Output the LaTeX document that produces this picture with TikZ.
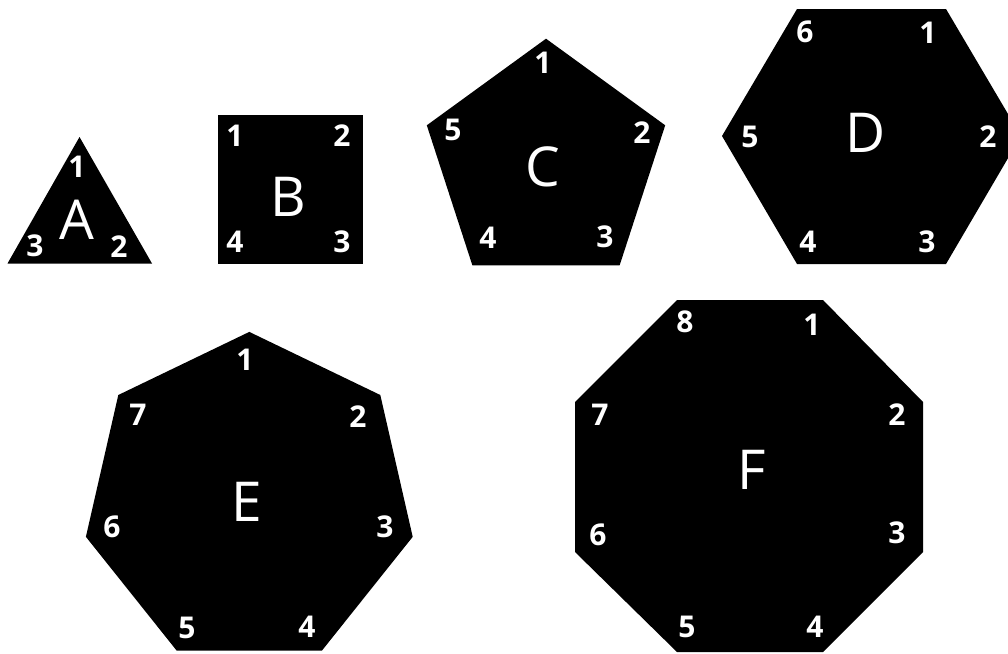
\documentclass[tikz,border=0pt]{standalone}
\usepackage{fontspec}
\setmainfont{Open Sans}
\begin{document}
\begin{tikzpicture}[x=1pt,y=-1pt,
  polyfill/.style={fill=black},
  num/.style={text=white,inner sep=0pt,font=\fontsize{30}{30}\selectfont\bfseries},
  big/.style={text=white,inner sep=0pt,font=\fontsize{55}{55}\selectfont}]
\useasboundingbox (0,0) rectangle (1008,653);
\clip (0,0) rectangle (1008,653);
% A triangle
\fill[polyfill] (79.5,137) -- (152,263.5) -- (7.5,263.5) -- cycle;
\node[num] (a1) at (77,167) {1};
\node[num] (a2) at (119,247) {2};
\node[num] (a3) at (35,246) {3};
\node[big] (A) at (77,220) {A};
% B square
\fill[polyfill] (218,115) rectangle (363,264);
\node[num] (b1) at (235,136) {1};
\node[num] (b2) at (342,136) {2};
\node[num] (b3) at (342,242) {3};
\node[num] (b4) at (235,242) {4};
\node[big] (B) at (288,197) {B};
% C pentagon
\fill[polyfill] (546,38.7) -- (665.2,125.3) -- (619.6,265.4) -- (472.4,265.4) -- (426.8,125.3) -- cycle;
\node[num] (c1) at (543,63) {1};
\node[num] (c2) at (642,133) {2};
\node[num] (c3) at (605,237) {3};
\node[num] (c4) at (488,238) {4};
\node[num] (c5) at (453,130) {5};
\node[big] (C) at (543,167) {C};
% D hexagon
\fill[polyfill] (797,9) -- (946,9) -- (1021,136) -- (946,264) -- (797,264) -- (722,136) -- cycle;
\node[num] (d1) at (928,33) {1};
\node[num] (d2) at (988,137) {2};
\node[num] (d3) at (927,242) {3};
\node[num] (d4) at (808,242) {4};
\node[num] (d5) at (750,137) {5};
\node[num] (d6) at (805,32) {6};
\node[big] (D) at (866,133) {D};
% E heptagon
\fill[polyfill] (249.3,331.9) -- (380.3,395.0) -- (412.7,536.8) -- (322.0,650.5) -- (176.6,650.5) -- (85.9,536.8) -- (118.3,395.0) -- cycle;
\node[num] (e1) at (245,360) {1};
\node[num] (e2) at (358,417) {2};
\node[num] (e3) at (385,527) {3};
\node[num] (e4) at (307,627) {4};
\node[num] (e5) at (187,628) {5};
\node[num] (e6) at (112,527) {6};
\node[num] (e7) at (138,415) {7};
\node[big] (E) at (247,502) {E};
% F octagon
\fill[polyfill] (677,300) -- (823,300) -- (923,402) -- (923,552) -- (823,652) -- (677,652) -- (575,552) -- (575,402) -- cycle;
\node[num] (f1) at (812,325) {1};
\node[num] (f2) at (897,415) {2};
\node[num] (f3) at (897,533) {3};
\node[num] (f4) at (815,627) {4};
\node[num] (f5) at (687,627) {5};
\node[num] (f6) at (598,535) {6};
\node[num] (f7) at (600,415) {7};
\node[num] (f8) at (685,322) {8};
\node[big] (F) at (752,470) {F};
\end{tikzpicture}
\end{document}
